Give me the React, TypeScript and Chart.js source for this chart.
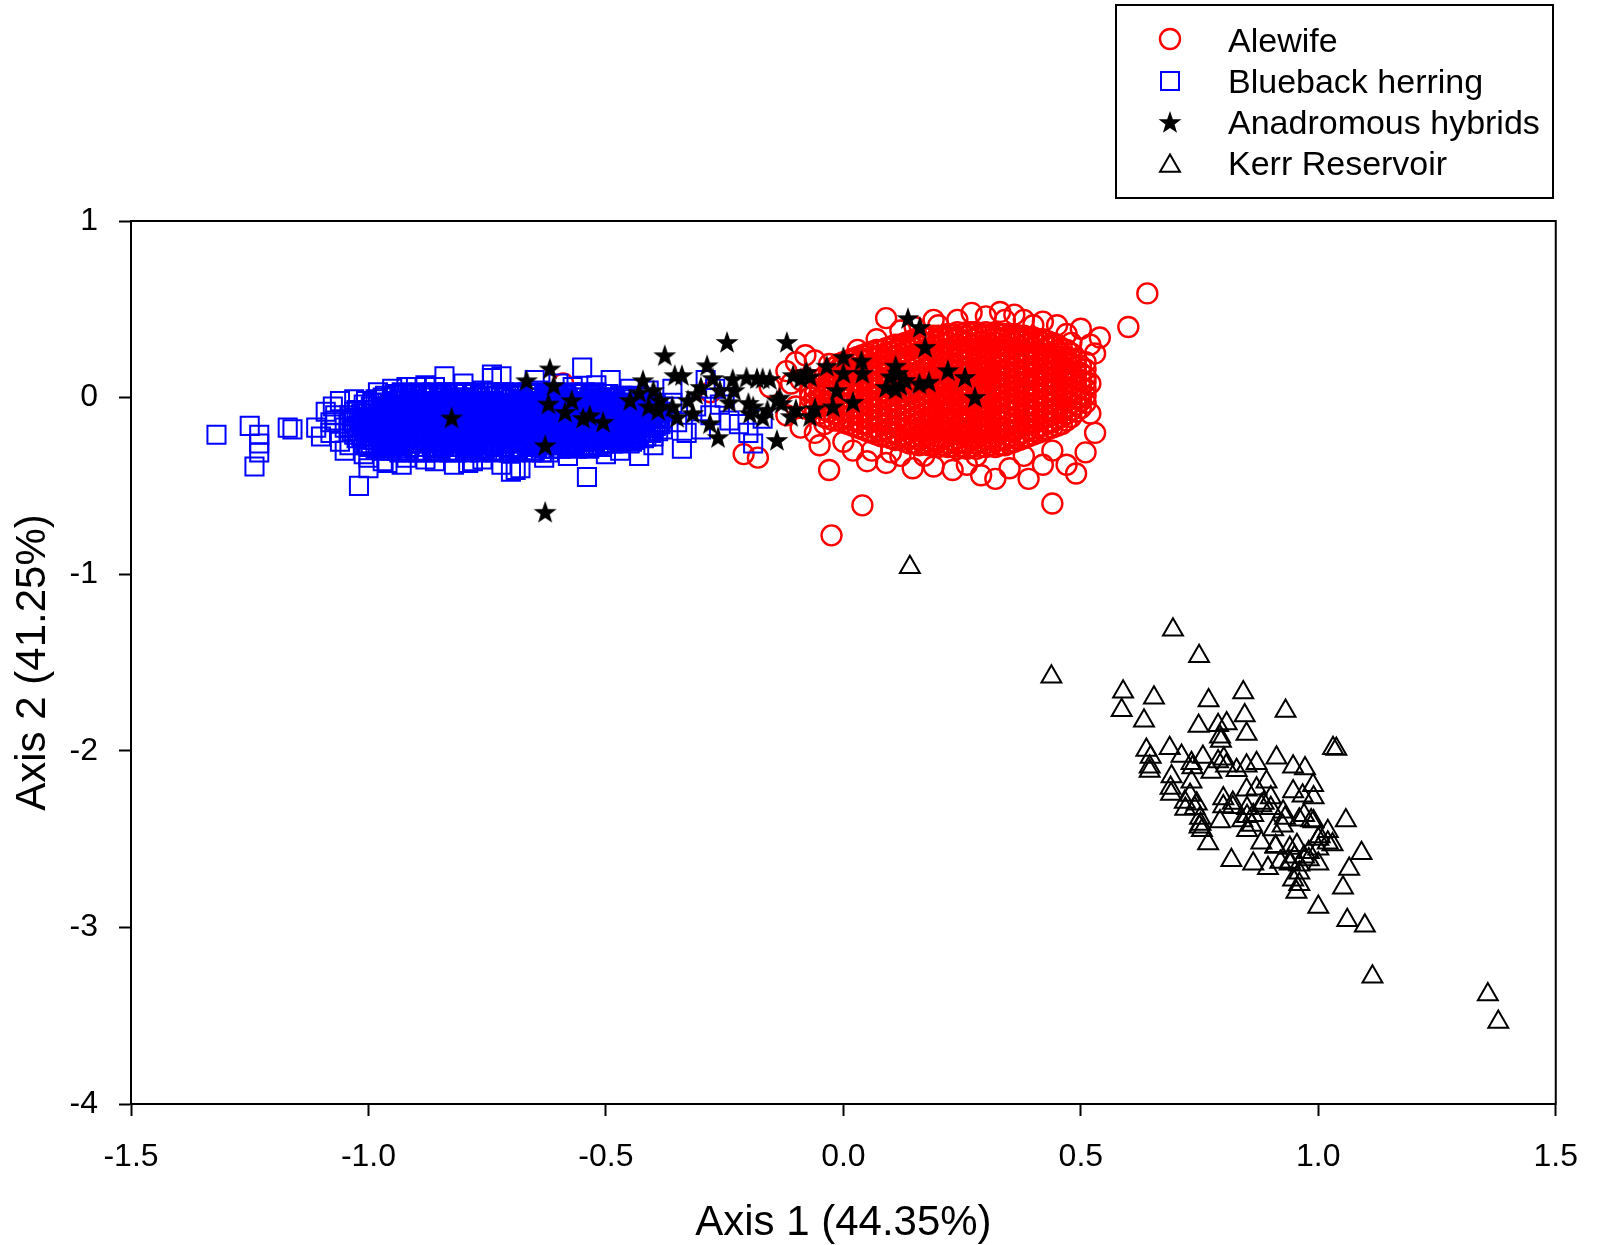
import React, { useEffect, useRef } from 'react';
import { Chart, registerables } from 'chart.js';

Chart.register(...registerables);

const seriesNames = ['Alewife', 'Blueback herring', 'Anadromous hybrids', 'Kerr Reservoir'];
const seriesColors = ['#ff0000', '#0000ff', '#000000', '#000000'];
const xTicks = [-1.5, -1.0, -0.5, 0, 0.5, 1.0, 1.5];
const yTicks = [-4, -3, -2, -1, 0, 1];
const xTitle = 'Axis 1 (44.35%)';
const yTitle = 'Axis 2 (41.25%)';

// Alewife: dense core read column by column as [x, y1, y2, ...]
const alewifeCore: number[][] = [
  [-0.07, -0.04, 0.0, 0.03],
  [-0.05, -0.09, -0.05, -0.01, 0.03, 0.07],
  [-0.03, -0.12, -0.08, -0.04, 0.0, 0.04, 0.07, 0.11, 0.14],
  [-0.01, -0.13, -0.1, -0.06, -0.02, 0.02, 0.05, 0.09, 0.12, 0.16, 0.19],
  [0.01, -0.15, -0.11, -0.07, -0.04, 0.0, 0.04, 0.07, 0.11, 0.14, 0.18, 0.21],
  [0.03, -0.17, -0.13, -0.09, -0.05, -0.02, 0.02, 0.06, 0.09, 0.13, 0.16, 0.2, 0.23],
  [0.05, -0.19, -0.15, -0.12, -0.08, -0.04, -0.01, 0.03, 0.07, 0.1, 0.14, 0.18, 0.21, 0.25],
  [0.07, -0.21, -0.17, -0.13, -0.1, -0.06, -0.02, 0.01, 0.05, 0.09, 0.12, 0.16, 0.19, 0.23, 0.27],
  [0.09, -0.22, -0.18, -0.15, -0.11, -0.07, -0.04, 0.0, 0.04, 0.07, 0.11, 0.14, 0.18, 0.22, 0.25, 0.28],
  [0.11, -0.24, -0.2, -0.16, -0.13, -0.09, -0.05, -0.02, 0.02, 0.06, 0.09, 0.13, 0.16, 0.2, 0.23, 0.27, 0.3],
  [0.13, -0.25, -0.21, -0.18, -0.14, -0.1, -0.07, -0.03, 0.01, 0.04, 0.08, 0.11, 0.15, 0.19, 0.22, 0.26, 0.29, 0.31],
  [0.15, -0.26, -0.22, -0.19, -0.15, -0.11, -0.08, -0.04, 0.0, 0.03, 0.07, 0.1, 0.14, 0.17, 0.21, 0.24, 0.28, 0.31, 0.33],
  [0.17, -0.26, -0.23, -0.19, -0.16, -0.12, -0.09, -0.05, -0.01, 0.02, 0.06, 0.09, 0.13, 0.16, 0.2, 0.24, 0.27, 0.31, 0.34],
  [0.19, -0.27, -0.24, -0.2, -0.17, -0.13, -0.1, -0.06, -0.02, 0.01, 0.05, 0.08, 0.12, 0.15, 0.19, 0.22, 0.26, 0.29, 0.32, 0.35],
  [0.21, -0.27, -0.23, -0.19, -0.16, -0.12, -0.08, -0.05, -0.01, 0.03, 0.06, 0.1, 0.13, 0.17, 0.2, 0.24, 0.27, 0.31, 0.35],
  [0.23, -0.28, -0.24, -0.21, -0.17, -0.14, -0.1, -0.06, -0.03, 0.01, 0.04, 0.08, 0.11, 0.15, 0.18, 0.22, 0.26, 0.29, 0.33, 0.36],
  [0.25, -0.28, -0.25, -0.21, -0.18, -0.14, -0.11, -0.07, -0.04, 0.0, 0.03, 0.07, 0.1, 0.14, 0.17, 0.21, 0.24, 0.28, 0.32, 0.36],
  [0.27, -0.28, -0.24, -0.2, -0.16, -0.13, -0.09, -0.05, -0.02, 0.02, 0.05, 0.09, 0.12, 0.16, 0.19, 0.23, 0.26, 0.3, 0.33, 0.37],
  [0.29, -0.28, -0.25, -0.21, -0.17, -0.14, -0.1, -0.07, -0.03, 0.01, 0.04, 0.08, 0.11, 0.15, 0.18, 0.22, 0.25, 0.29, 0.32, 0.36],
  [0.31, -0.27, -0.23, -0.2, -0.16, -0.12, -0.09, -0.05, -0.02, 0.02, 0.06, 0.09, 0.13, 0.16, 0.2, 0.23, 0.27, 0.3, 0.33, 0.36],
  [0.33, -0.27, -0.24, -0.2, -0.17, -0.13, -0.1, -0.06, -0.03, 0.01, 0.04, 0.08, 0.12, 0.15, 0.19, 0.22, 0.26, 0.29, 0.33, 0.36],
  [0.35, -0.26, -0.22, -0.19, -0.15, -0.11, -0.08, -0.04, 0.0, 0.03, 0.07, 0.1, 0.14, 0.17, 0.21, 0.25, 0.28, 0.32, 0.35],
  [0.37, -0.24, -0.21, -0.17, -0.14, -0.1, -0.06, -0.03, 0.01, 0.05, 0.08, 0.12, 0.15, 0.19, 0.22, 0.26, 0.29, 0.32, 0.35],
  [0.39, -0.22, -0.18, -0.15, -0.11, -0.07, -0.04, 0.0, 0.03, 0.07, 0.1, 0.14, 0.17, 0.21, 0.24, 0.28, 0.31, 0.34],
  [0.41, -0.2, -0.17, -0.13, -0.09, -0.06, -0.02, 0.02, 0.05, 0.09, 0.12, 0.16, 0.19, 0.23, 0.26, 0.3, 0.33],
  [0.43, -0.18, -0.14, -0.11, -0.07, -0.03, 0.0, 0.04, 0.07, 0.11, 0.15, 0.18, 0.22, 0.25, 0.29, 0.32],
  [0.45, -0.16, -0.12, -0.09, -0.05, -0.01, 0.02, 0.06, 0.09, 0.13, 0.16, 0.2, 0.23, 0.27, 0.3],
  [0.47, -0.13, -0.09, -0.06, -0.02, 0.02, 0.05, 0.09, 0.12, 0.16, 0.2, 0.23, 0.27],
  [0.49, -0.08, -0.04, -0.01, 0.03, 0.07, 0.1, 0.14, 0.18, 0.22],
  [0.51, -0.03, 0.01, 0.05, 0.09, 0.12, 0.16],
];

// Alewife: second pass over the core, columns in between, [x, y1, y2, ...]
const alewifeCoreB: number[][] = [
  [-0.06, -0.06, -0.02, 0.02, 0.05],
  [-0.04, -0.11, -0.07, -0.03, 0.01, 0.05, 0.09, 0.12],
  [-0.02, -0.13, -0.09, -0.05, -0.01, 0.03, 0.06, 0.1, 0.13, 0.17],
  [0.0, -0.14, -0.12, -0.08, -0.04, 0.0, 0.03, 0.07, 0.1, 0.14, 0.17, 0.2],
  [0.02, -0.16, -0.13, -0.09, -0.06, -0.02, 0.02, 0.05, 0.09, 0.12, 0.16, 0.19, 0.22],
  [0.04, -0.18, -0.15, -0.11, -0.07, -0.03, 0.0, 0.04, 0.08, 0.11, 0.15, 0.18, 0.22, 0.24],
  [0.06, -0.2, -0.17, -0.13, -0.1, -0.06, -0.02, 0.01, 0.05, 0.08, 0.12, 0.16, 0.19, 0.23, 0.26],
  [0.08, -0.22, -0.19, -0.15, -0.12, -0.08, -0.04, -0.01, 0.03, 0.06, 0.1, 0.14, 0.17, 0.21, 0.24, 0.27],
  [0.1, -0.23, -0.2, -0.17, -0.13, -0.09, -0.06, -0.02, 0.01, 0.05, 0.09, 0.12, 0.16, 0.19, 0.23, 0.26, 0.29],
  [0.12, -0.24, -0.22, -0.18, -0.15, -0.11, -0.07, -0.04, 0.0, 0.03, 0.07, 0.11, 0.14, 0.18, 0.21, 0.25, 0.28, 0.3],
  [0.14, -0.26, -0.23, -0.2, -0.16, -0.13, -0.09, -0.05, -0.02, 0.02, 0.05, 0.09, 0.13, 0.16, 0.2, 0.23, 0.27, 0.3, 0.32],
  [0.16, -0.27, -0.24, -0.21, -0.17, -0.14, -0.1, -0.06, -0.03, 0.01, 0.05, 0.08, 0.12, 0.15, 0.19, 0.22, 0.26, 0.29, 0.33],
  [0.18, -0.27, -0.25, -0.21, -0.18, -0.14, -0.11, -0.07, -0.04, 0.0, 0.04, 0.07, 0.11, 0.14, 0.18, 0.21, 0.25, 0.28, 0.31, 0.34],
  [0.2, -0.28, -0.25, -0.22, -0.18, -0.15, -0.11, -0.07, -0.04, 0.0, 0.03, 0.07, 0.1, 0.14, 0.17, 0.21, 0.25, 0.28, 0.32, 0.35],
  [0.22, -0.28, -0.26, -0.22, -0.19, -0.15, -0.12, -0.08, -0.04, -0.01, 0.02, 0.06, 0.09, 0.13, 0.17, 0.2, 0.24, 0.27, 0.31, 0.34, 0.36],
  [0.24, -0.29, -0.26, -0.23, -0.19, -0.16, -0.12, -0.09, -0.05, -0.02, 0.02, 0.05, 0.09, 0.12, 0.16, 0.19, 0.23, 0.26, 0.3, 0.34, 0.37],
  [0.26, -0.29, -0.26, -0.22, -0.19, -0.15, -0.12, -0.08, -0.04, -0.01, 0.03, 0.06, 0.1, 0.13, 0.17, 0.21, 0.24, 0.28, 0.31, 0.35, 0.37],
  [0.28, -0.29, -0.26, -0.23, -0.19, -0.15, -0.12, -0.08, -0.05, -0.01, 0.03, 0.06, 0.1, 0.13, 0.17, 0.2, 0.24, 0.27, 0.31, 0.34, 0.37],
  [0.3, -0.28, -0.26, -0.22, -0.18, -0.15, -0.11, -0.08, -0.04, 0.0, 0.03, 0.07, 0.1, 0.14, 0.17, 0.21, 0.25, 0.28, 0.31, 0.35, 0.37],
  [0.32, -0.28, -0.25, -0.22, -0.18, -0.15, -0.11, -0.08, -0.04, -0.01, 0.03, 0.06, 0.1, 0.14, 0.17, 0.21, 0.24, 0.28, 0.31, 0.34, 0.37],
  [0.34, -0.27, -0.24, -0.21, -0.17, -0.13, -0.1, -0.06, -0.02, 0.02, 0.05, 0.09, 0.12, 0.16, 0.19, 0.23, 0.27, 0.3, 0.34, 0.36],
  [0.36, -0.25, -0.23, -0.19, -0.16, -0.12, -0.08, -0.05, -0.01, 0.03, 0.06, 0.1, 0.13, 0.17, 0.21, 0.24, 0.28, 0.31, 0.34, 0.36],
  [0.38, -0.23, -0.2, -0.16, -0.13, -0.09, -0.05, -0.02, 0.02, 0.05, 0.09, 0.12, 0.16, 0.19, 0.23, 0.26, 0.3, 0.33, 0.35],
  [0.4, -0.21, -0.19, -0.15, -0.11, -0.08, -0.04, 0.0, 0.04, 0.07, 0.11, 0.14, 0.18, 0.21, 0.25, 0.28, 0.32, 0.34],
  [0.42, -0.19, -0.16, -0.12, -0.09, -0.05, -0.01, 0.02, 0.06, 0.1, 0.13, 0.17, 0.2, 0.24, 0.27, 0.31, 0.33],
  [0.44, -0.17, -0.14, -0.1, -0.07, -0.03, 0.01, 0.04, 0.08, 0.11, 0.15, 0.18, 0.22, 0.25, 0.29, 0.31],
  [0.46, -0.15, -0.11, -0.07, -0.04, 0.0, 0.04, 0.07, 0.11, 0.14, 0.18, 0.21, 0.25, 0.28],
  [0.48, -0.11, -0.07, -0.03, 0.01, 0.04, 0.08, 0.11, 0.15, 0.19, 0.22, 0.25],
  [0.5, -0.06, -0.02, 0.02, 0.06, 0.1, 0.14, 0.18],
];

// Alewife: scattered points around the core, [x, y]
const alewifeEdge: number[][] = [
  [0.09, 0.45], [0.15, 0.4], [0.12, 0.38], [0.19, 0.44], [0.2, 0.41], [0.24, 0.44], [0.27, 0.48], [0.3, 0.46],
  [0.33, 0.485], [0.34, 0.44], [0.36, 0.47], [0.38, 0.44], [0.4, 0.41], [0.42, 0.43], [0.45, 0.41], [0.47, 0.36],
  [0.5, 0.39], [0.52, 0.3], [0.54, 0.34], [0.53, 0.25], [0.6, 0.4], [0.64, 0.59],
  [-0.08, 0.24], [-0.06, 0.21], [-0.1, 0.2], [-0.12, 0.15], [-0.11, 0.08], [-0.09, 0.1], [-0.155, 0.06],
  [-0.28, 0.03], [-0.59, 0.08], [-0.1, -0.05], [-0.12, -0.1], [-0.09, -0.17], [-0.21, -0.32], [-0.18, -0.34],
  [-0.06, -0.2], [-0.05, -0.27], [-0.03, -0.41], [-0.025, -0.78], [0.04, -0.61],
  [0.02, -0.3], [0.05, -0.36], [0.09, -0.37], [0.146, -0.4], [0.19, -0.39], [0.23, -0.41], [0.26, -0.38],
  [0.29, -0.44], [0.32, -0.46], [0.35, -0.4], [0.39, -0.46], [0.42, -0.38], [0.44, -0.6], [0.47, -0.38],
  [0.49, -0.43], [0.51, -0.31], [0.52, -0.09], [0.53, -0.2], [0.44, -0.3], [0.12, -0.33], [0.0, -0.25],
  [0.38, -0.33], [0.1, -0.31], [0.06, -0.3], [0.28, -0.33], [0.17, -0.33], [0.5, 0.0], [0.52, 0.08],
  [0.51, 0.2], [0.48, 0.31], [0.03, 0.27], [0.07, 0.33], [-0.03, 0.19], [-0.04, -0.15],
];

// Blueback herring: dense core read column by column as [x, y1, y2, ...]
const bluebackCore: number[][] = [
  [-1.04, -0.1, -0.17], [-1.03, -0.08, -0.14, -0.21], [-1.02, -0.12, -0.19],
  [-1.01, -0.04, -0.11, -0.18, -0.26], [-1.0, -0.07, -0.15, -0.22, -0.28], [-0.99, -0.03, -0.09, -0.17, -0.24],
  [-0.98, -0.05, -0.13, -0.2, -0.27], [-0.97, 0.0, -0.08, -0.16, -0.23, -0.3], [-0.96, -0.03, -0.11, -0.18, -0.26],
  [-0.95, 0.01, -0.06, -0.14, -0.21, -0.29], [-0.94, -0.02, -0.1, -0.17, -0.25, -0.3], [-0.93, 0.03, -0.05, -0.12, -0.2, -0.27],
  [-0.92, 0.0, -0.08, -0.15, -0.23, -0.31], [-0.91, 0.02, -0.04, -0.11, -0.19, -0.26], [-0.9, -0.01, -0.09, -0.16, -0.24, -0.3],
  [-0.89, 0.03, -0.06, -0.13, -0.21, -0.28], [-0.88, 0.01, -0.07, -0.14, -0.22, -0.31], [-0.87, -0.02, -0.1, -0.18, -0.25],
  [-0.86, 0.02, -0.05, -0.12, -0.2, -0.29], [-0.85, 0.0, -0.08, -0.16, -0.23, -0.3], [-0.84, 0.03, -0.04, -0.11, -0.19, -0.27],
  [-0.83, -0.01, -0.09, -0.17, -0.24, -0.31], [-0.82, 0.02, -0.06, -0.13, -0.21, -0.28], [-0.81, 0.0, -0.07, -0.15, -0.22, -0.3],
  [-0.8, 0.03, -0.03, -0.1, -0.18, -0.26], [-0.79, -0.01, -0.09, -0.16, -0.24, -0.31], [-0.78, 0.02, -0.05, -0.12, -0.2, -0.28],
  [-0.77, 0.0, -0.08, -0.15, -0.23, -0.29], [-0.76, 0.04, -0.03, -0.11, -0.19, -0.27], [-0.75, 0.01, -0.07, -0.14, -0.22, -0.3],
  [-0.74, -0.02, -0.1, -0.17, -0.25, -0.31], [-0.73, 0.03, -0.05, -0.13, -0.2, -0.28], [-0.72, 0.0, -0.08, -0.16, -0.23, -0.3],
  [-0.71, 0.02, -0.04, -0.11, -0.19, -0.26], [-0.7, -0.01, -0.09, -0.15, -0.22, -0.29], [-0.69, 0.03, -0.06, -0.13, -0.21, -0.31],
  [-0.68, 0.01, -0.07, -0.14, -0.24, -0.28], [-0.67, -0.02, -0.1, -0.18, -0.25], [-0.66, 0.02, -0.05, -0.12, -0.2, -0.27],
  [-0.65, 0.0, -0.08, -0.16, -0.23, -0.3], [-0.64, 0.04, -0.03, -0.11, -0.19, -0.26], [-0.63, 0.01, -0.07, -0.14, -0.22, -0.29],
  [-0.62, -0.01, -0.09, -0.17, -0.24, -0.31], [-0.61, 0.03, -0.05, -0.12, -0.2, -0.27], [-0.6, 0.0, -0.08, -0.15, -0.23, -0.29],
  [-0.59, 0.02, -0.04, -0.11, -0.18, -0.26], [-0.58, -0.01, -0.09, -0.16, -0.22, -0.28], [-0.57, 0.03, -0.06, -0.13, -0.2, -0.27],
  [-0.56, 0.0, -0.07, -0.15, -0.23, -0.29], [-0.55, 0.02, -0.04, -0.11, -0.18, -0.25], [-0.54, -0.02, -0.1, -0.17, -0.24, -0.28],
  [-0.53, 0.01, -0.06, -0.13, -0.21, -0.27], [-0.52, 0.03, -0.03, -0.09, -0.16, -0.23], [-0.51, -0.01, -0.08, -0.15, -0.22, -0.28],
  [-0.5, 0.02, -0.05, -0.12, -0.19, -0.26], [-0.49, 0.0, -0.07, -0.14, -0.21, -0.26], [-0.48, -0.02, -0.1, -0.17, -0.24],
  [-0.47, 0.01, -0.05, -0.12, -0.19, -0.25], [-0.46, -0.01, -0.08, -0.15, -0.22], [-0.45, 0.0, -0.06, -0.13, -0.2, -0.26],
  [-0.44, -0.03, -0.1, -0.17, -0.24], [-0.43, 0.01, -0.07, -0.14, -0.21], [-0.42, -0.02, -0.09, -0.16, -0.23],
  [-0.41, -0.05, -0.12, -0.19], [-0.4, -0.03, -0.1, -0.17, -0.22], [-0.39, -0.07, -0.14, -0.19], [-0.38, -0.05, -0.12, -0.18],
];

// Blueback herring: second pass over the core, columns in between, [x, y1, y2, ...]
const bluebackCoreB: number[][] = [
  [-1.035, -0.13, -0.19], [-1.025, -0.07, -0.16, -0.23], [-1.015, -0.09, -0.15, -0.22],
  [-1.005, -0.02, -0.12, -0.2, -0.27], [-0.995, -0.05, -0.13, -0.2, -0.26], [-0.985, -0.01, -0.07, -0.15, -0.22, -0.29],
  [-0.975, -0.03, -0.11, -0.18, -0.25], [-0.965, 0.01, -0.06, -0.13, -0.2, -0.28], [-0.955, -0.04, -0.09, -0.16, -0.24, -0.3],
  [-0.945, 0.02, -0.05, -0.13, -0.2, -0.27], [-0.935, -0.01, -0.08, -0.15, -0.23, -0.31], [-0.925, 0.02, -0.04, -0.11, -0.18, -0.26],
  [-0.915, -0.02, -0.09, -0.17, -0.24, -0.29], [-0.905, 0.01, -0.06, -0.13, -0.21, -0.28], [-0.895, -0.03, -0.11, -0.18, -0.26, -0.31],
  [-0.885, 0.02, -0.04, -0.1, -0.17, -0.24], [-0.875, 0.0, -0.06, -0.13, -0.2, -0.28], [-0.865, 0.03, -0.03, -0.08, -0.15, -0.22, -0.3],
  [-0.855, -0.02, -0.09, -0.17, -0.25, -0.31], [-0.845, 0.01, -0.06, -0.13, -0.21, -0.28], [-0.835, 0.03, -0.02, -0.08, -0.15, -0.23, -0.3],
  [-0.825, -0.03, -0.11, -0.19, -0.26], [-0.815, 0.02, -0.04, -0.1, -0.18, -0.25, -0.31], [-0.805, 0.0, -0.06, -0.13, -0.2, -0.28],
  [-0.795, 0.03, -0.05, -0.12, -0.21, -0.29], [-0.785, -0.02, -0.07, -0.14, -0.22, -0.3], [-0.775, 0.03, -0.04, -0.1, -0.18, -0.26],
  [-0.765, 0.01, -0.06, -0.13, -0.21, -0.31], [-0.755, -0.02, -0.09, -0.16, -0.25, -0.29], [-0.745, 0.03, -0.04, -0.12, -0.19, -0.27],
  [-0.735, 0.01, -0.06, -0.14, -0.21, -0.3], [-0.725, -0.03, -0.11, -0.18, -0.26], [-0.715, 0.03, -0.05, -0.13, -0.21, -0.28],
  [-0.705, 0.01, -0.07, -0.15, -0.24, -0.31], [-0.695, -0.03, -0.1, -0.18, -0.26], [-0.685, 0.02, -0.04, -0.11, -0.19, -0.29],
  [-0.675, -0.01, -0.08, -0.16, -0.22, -0.3], [-0.665, 0.03, -0.05, -0.13, -0.21, -0.27], [-0.655, 0.0, -0.07, -0.14, -0.24, -0.31],
  [-0.645, 0.02, -0.05, -0.1, -0.17, -0.28], [-0.635, -0.02, -0.09, -0.16, -0.24, -0.31], [-0.625, 0.03, -0.04, -0.12, -0.2, -0.27],
  [-0.615, 0.0, -0.07, -0.14, -0.22, -0.29], [-0.605, 0.02, -0.03, -0.1, -0.18, -0.25], [-0.595, -0.02, -0.09, -0.16, -0.21, -0.29],
  [-0.585, 0.01, -0.06, -0.13, -0.19, -0.27], [-0.575, -0.03, -0.1, -0.18, -0.25], [-0.565, 0.02, -0.04, -0.11, -0.17, -0.26],
  [-0.555, 0.0, -0.08, -0.14, -0.21, -0.28], [-0.545, 0.03, -0.05, -0.13, -0.2, -0.27], [-0.535, -0.01, -0.08, -0.15, -0.23, -0.29],
  [-0.525, 0.02, -0.04, -0.11, -0.18, -0.25], [-0.515, 0.0, -0.06, -0.13, -0.2, -0.27], [-0.505, -0.03, -0.1, -0.17, -0.24],
  [-0.495, 0.02, -0.04, -0.1, -0.16, -0.23], [-0.485, 0.0, -0.06, -0.13, -0.2, -0.26], [-0.475, -0.03, -0.09, -0.15, -0.22],
  [-0.465, 0.01, -0.05, -0.11, -0.18, -0.24], [-0.455, -0.03, -0.1, -0.17, -0.23], [-0.445, 0.0, -0.07, -0.14, -0.21, -0.25],
  [-0.435, -0.04, -0.11, -0.18, -0.23], [-0.425, 0.0, -0.06, -0.13, -0.2], [-0.415, -0.03, -0.1, -0.17, -0.22],
  [-0.405, -0.06, -0.14, -0.2], [-0.395, -0.04, -0.11, -0.16], [-0.385, -0.08, -0.15],
];

// Blueback herring: scattered points around the core, [x, y]
const bluebackEdge: number[][] = [
  [-1.32, -0.21], [-1.25, -0.16], [-1.23, -0.21], [-1.23, -0.26], [-1.23, -0.31], [-1.24, -0.39], [-1.17, -0.17],
  [-1.16, -0.18], [-1.11, -0.17], [-1.1, -0.22], [-1.075, -0.05], [-1.02, -0.5], [-1.0, -0.4], [-1.03, -0.01],
  [-0.96, -0.37], [-0.84, 0.12], [-0.74, 0.13], [-0.72, 0.12], [-0.79, -0.37], [-0.7, -0.42], [-0.69, -0.41],
  [-0.55, 0.17], [-0.54, -0.45], [-0.43, -0.33], [-0.34, -0.29], [-0.19, -0.26], [-0.29, 0.1], [-0.22, -0.15],
  [-0.49, 0.1], [-0.74, 0.11], [-0.65, 0.1], [-1.07, -0.1], [-1.08, -0.14], [-1.06, -0.25], [-1.05, -0.3],
  [-0.98, 0.03], [-0.92, 0.06], [-0.88, 0.07], [-0.8, 0.08], [-0.6, 0.08], [-0.63, -0.34], [-0.88, -0.35],
  [-0.92, -0.34], [-0.76, -0.35], [-0.58, -0.33], [-0.5, -0.32], [-0.47, -0.3], [-0.4, -0.27], [-0.36, -0.03],
  [-0.35, -0.14], [-0.33, -0.2], [-0.31, -0.05], [-0.28, -0.1], [-0.3, -0.18], [-0.26, -0.04], [-0.25, 0.0],
  [-0.36, 0.05], [-0.41, 0.04], [-0.45, 0.05], [-0.52, 0.07], [-0.57, 0.06], [-0.2, -0.2], [-0.24, -0.13],
  [-0.27, 0.05], [-0.17, -0.12], [-0.95, 0.05], [-0.9, 0.06], [-0.86, 0.06], [-1.0, -0.34], [-0.97, -0.36],
  [-0.93, -0.38], [-0.86, -0.36], [-0.82, -0.38], [-0.78, -0.36], [-0.72, -0.38], [-0.68, -0.4],
  [-1.09, -0.08], [-1.08, -0.2], [-1.06, -0.02], [-1.05, -0.17], [-1.04, -0.27], [-1.01, -0.32], [-1.07, -0.13],
];

// Anadromous hybrids, [x, y]
const hybrids: number[][] = [
  [-0.825, -0.113], [-0.667, 0.098], [-0.618, 0.165], [-0.61, 0.07], [-0.572, -0.015], [-0.621, -0.034],
  [-0.586, -0.081], [-0.534, -0.1], [-0.506, -0.137], [-0.548, -0.115], [-0.628, -0.27], [-0.628, -0.647],
  [-0.449, -0.014], [-0.376, 0.24], [-0.422, 0.098], [-0.4, 0.042], [-0.386, -0.015], [-0.39, -0.07],
  [-0.355, 0.127], [-0.34, 0.127], [-0.327, -0.015], [-0.317, -0.088], [-0.35, -0.11], [-0.287, 0.183],
  [-0.245, 0.315], [-0.119, 0.315], [-0.275, 0.11], [-0.233, 0.105], [-0.204, 0.115], [-0.182, 0.11],
  [-0.155, 0.105], [-0.281, -0.145], [-0.264, -0.224], [-0.26, 0.042], [-0.23, 0.042], [-0.24, -0.026],
  [-0.2, -0.03], [-0.197, -0.088], [-0.14, -0.24], [-0.134, 0.0], [-0.106, 0.127], [-0.077, 0.144],
  [-0.11, -0.105], [-0.07, -0.105], [-0.06, -0.06], [0.136, 0.45], [0.161, 0.4], [0.172, 0.287], [0.0, 0.23],
  [0.038, 0.21], [-0.035, 0.18], [0.11, 0.18], [0.1, 0.12], [0.115, 0.14], [0.12, 0.07], [0.11, 0.05],
  [0.13, 0.1], [0.09, 0.06], [0.16, 0.08], [0.18, 0.09], [0.22, 0.155], [0.256, 0.117], [0.277, 0.004],
  [0.0, 0.14], [0.04, 0.14], [-0.014, 0.042], [0.02, -0.024], [-0.022, -0.05], [-0.08, 0.14], [-0.07, 0.12],
  [-0.09, 0.11], [-0.17, 0.11], [-0.14, -0.015], [-0.13, -0.03], [-0.1, -0.065], [-0.19, -0.05], [-0.16, -0.07],
  [-0.17, -0.11], [-0.41, -0.05], [-0.3, 0.06], [-0.31, 0.02], [-0.36, -0.05], [-0.43, 0.03],
];

// Kerr Reservoir, [x, y]
const kerr: number[][] = [
  [0.14, -0.96], [0.438, -1.58], [0.694, -1.315], [0.749, -1.465], [0.589, -1.665], [0.586, -1.77], [0.654, -1.7],
  [0.633, -1.83], [0.769, -1.715], [0.842, -1.67], [0.845, -1.8], [0.931, -1.775], [0.748, -1.86], [0.789, -1.855],
  [0.807, -1.845], [0.793, -1.92], [0.795, -1.945], [0.849, -1.905], [1.031, -1.985], [1.038, -1.99], [0.638, -1.995],
  [0.647, -2.035], [0.645, -2.09], [0.687, -1.985], [0.712, -2.03], [0.733, -2.07], [0.735, -2.095], [0.757, -2.035],
  [0.775, -2.12], [0.789, -2.06], [0.801, -2.045], [0.806, -2.085], [0.828, -2.11], [0.849, -2.085], [0.87, -2.07],
  [0.912, -2.04], [0.947, -2.09], [0.972, -2.1], [0.645, -2.115], [0.691, -2.145], [0.689, -2.21], [0.733, -2.175],
  [0.719, -2.29], [0.744, -2.3], [0.751, -2.38], [0.752, -2.415], [0.768, -2.525], [0.817, -2.62], [0.863, -2.64],
  [0.894, -2.665], [0.8, -2.27], [0.82, -2.295], [0.849, -2.22], [0.87, -2.215], [0.891, -2.175], [0.85, -2.325],
  [0.863, -2.365], [0.84, -2.395], [0.885, -2.295], [0.9, -2.265], [0.926, -2.345], [0.947, -2.23], [0.967, -2.255],
  [0.989, -2.195], [0.99, -2.265], [0.97, -2.365], [0.985, -2.395], [1.003, -2.485], [1.02, -2.455], [1.058, -2.395],
  [1.091, -2.58], [1.065, -2.67], [1.052, -2.775], [0.955, -2.535], [0.94, -2.63], [0.96, -2.645], [0.947, -2.73],
  [0.96, -2.755], [0.954, -2.8], [0.91, -2.545], [0.98, -2.575], [1.0, -2.555], [0.905, -2.445], [0.925, -2.425],
  [1.0, -2.885], [1.061, -2.96], [1.098, -2.99], [1.114, -3.28], [1.357, -3.38], [1.379, -3.535], [0.793, -2.4],
  [0.75, -2.43], [0.755, -2.45], [0.72, -2.33], [0.74, -2.325], [0.69, -2.245], [0.73, -2.25], [0.8, -2.315],
  [0.82, -2.32], [0.85, -2.37], [0.86, -2.42], [0.85, -2.45], [0.88, -2.31], [0.9, -2.325], [0.93, -2.38],
  [0.96, -2.39], [0.99, -2.4], [0.88, -2.52], [0.91, -2.54], [0.94, -2.55], [0.95, -2.6], [1.0, -2.5],
  [1.02, -2.52], [1.03, -2.53], [0.97, -2.6], [0.98, -2.615], [1.0, -2.64], [0.92, -2.63], [0.94, -2.64], [0.96, -2.69],
];

const FONT = '"Liberation Sans", Arial, Helvetica, sans-serif';

const fromColumns = (cols: number[][]) =>
  cols.flatMap((c) => c.slice(1).map((y) => ({ x: c[0], y })));
const fromPairs = (arr: number[][]) => arr.map((p) => ({ x: p[0], y: p[1] }));

function makeStar(outer: number, inner: number): HTMLCanvasElement {
  const size = Math.ceil(outer * 2 + 2);
  const c = document.createElement('canvas');
  c.width = size;
  c.height = size;
  const g = c.getContext('2d') as CanvasRenderingContext2D;
  const cx = size / 2;
  const cy = size / 2 + outer * 0.09;
  g.fillStyle = '#000';
  g.beginPath();
  for (let i = 0; i < 10; i++) {
    const r = i % 2 === 0 ? outer : inner;
    const a = -Math.PI / 2 + (i * Math.PI) / 5;
    const px = cx + r * Math.cos(a);
    const py = cy + r * Math.sin(a);
    if (i === 0) g.moveTo(px, py);
    else g.lineTo(px, py);
  }
  g.closePath();
  g.fill();
  return c;
}

export default function App() {
  const ref = useRef<HTMLCanvasElement>(null);

  useEffect(() => {
    document.body.style.overflow = 'hidden';
    const star = makeStar(12, 4.8);

    const frameAndLegend = {
      id: 'frameAndLegend',
      afterDraw(chart: any) {
        const ctx = chart.ctx as CanvasRenderingContext2D;
        const a = chart.chartArea;
        ctx.save();
        ctx.strokeStyle = '#000';
        ctx.lineWidth = 2;
        ctx.beginPath();
        ctx.moveTo(a.left - 1, a.top);
        ctx.lineTo(a.right, a.top);
        ctx.lineTo(a.right, a.bottom + 1);
        ctx.stroke();

        // legend box
        ctx.strokeRect(1116, 5, 437, 193);
        const mx = 1170;
        const textX = 1228;
        const baselines = [52, 93, 134, 175];
        const centers = [39, 81, 122, 163];
        ctx.font = `34px ${FONT}`;
        ctx.textBaseline = 'alphabetic';
        ctx.textAlign = 'left';
        ctx.fillStyle = '#000';
        seriesNames.forEach((name, i) => ctx.fillText(name, textX, baselines[i]));

        // circle
        ctx.strokeStyle = seriesColors[0];
        ctx.lineWidth = 2.4;
        ctx.beginPath();
        ctx.arc(mx, centers[0], 10, 0, Math.PI * 2);
        ctx.stroke();
        // square
        ctx.strokeStyle = seriesColors[1];
        ctx.lineWidth = 2;
        ctx.strokeRect(mx - 9, centers[1] - 9, 18, 18);
        // star
        ctx.drawImage(star, mx - star.width / 2, centers[2] - star.height / 2);
        // triangle
        const r = 11.5;
        const ty = centers[3] + r / 4;
        ctx.strokeStyle = seriesColors[3];
        ctx.lineWidth = 2;
        ctx.beginPath();
        ctx.moveTo(mx, ty - r);
        ctx.lineTo(mx + r * Math.sin((2 * Math.PI) / 3), ty + r / 2);
        ctx.lineTo(mx - r * Math.sin((2 * Math.PI) / 3), ty + r / 2);
        ctx.closePath();
        ctx.stroke();
        ctx.restore();
      },
    };

    const tickFont = { family: FONT, size: 32 };
    const titleFont = { family: FONT, size: 42, lineHeight: 1 };
    const gridCfg = {
      display: true,
      drawOnChartArea: false,
      drawTicks: true,
      tickLength: 12,
      tickWidth: 2,
      tickColor: '#000',
    };
    const borderCfg = { display: true, color: '#000', width: 2 };

    const chart = new Chart(ref.current as HTMLCanvasElement, {
      type: 'scatter',
      data: {
        datasets: [
          {
            label: seriesNames[0],
            data: [...fromColumns(alewifeCore), ...fromColumns(alewifeCoreB), ...fromPairs(alewifeEdge)],
            pointStyle: 'circle',
            pointRadius: 10,
            pointBorderWidth: 2.4,
            pointBorderColor: seriesColors[0],
            pointBackgroundColor: 'rgba(0,0,0,0)',
            order: 4,
          },
          {
            label: seriesNames[1],
            data: [...fromColumns(bluebackCore), ...fromColumns(bluebackCoreB), ...fromPairs(bluebackEdge)],
            pointStyle: 'rect',
            pointRadius: 12.8,
            pointBorderWidth: 2,
            pointBorderColor: seriesColors[1],
            pointBackgroundColor: 'rgba(0,0,0,0)',
            order: 3,
          },
          {
            label: seriesNames[3],
            data: fromPairs(kerr),
            pointStyle: 'triangle',
            pointRadius: 11.5,
            pointBorderWidth: 2,
            pointBorderColor: seriesColors[3],
            pointBackgroundColor: 'rgba(0,0,0,0)',
            order: 2,
          },
          {
            label: seriesNames[2],
            data: fromPairs(hybrids),
            pointStyle: star as any,
            pointRadius: 12,
            pointBorderColor: seriesColors[2],
            pointBackgroundColor: seriesColors[2],
            order: 1,
          },
        ] as any,
      },
      options: {
        responsive: true,
        maintainAspectRatio: false,
        animation: false,
        events: [],
        layout: { padding: { top: 221, right: 44, bottom: 0, left: 0 } },
        plugins: {
          legend: { display: false },
          tooltip: { enabled: false },
        },
        scales: {
          x: {
            type: 'linear',
            min: -1.5,
            max: 1.5,
            afterBuildTicks: (s: any) => {
              s.ticks = xTicks.map((v) => ({ value: v }));
            },
            afterFit: (s: any) => {
              s.height = 141;
            },
            ticks: {
              callback: (v: any) => Number(v).toFixed(1),
              font: tickFont,
              color: '#000',
              padding: 22,
              autoSkip: false,
              maxRotation: 0,
            },
            grid: gridCfg,
            border: borderCfg,
            title: {
              display: true,
              text: xTitle,
              font: titleFont,
              color: '#000',
              padding: { top: 0, bottom: 1 },
            },
          },
          y: {
            type: 'linear',
            min: -4,
            max: 1,
            afterBuildTicks: (s: any) => {
              s.ticks = yTicks.map((v) => ({ value: v }));
            },
            afterFit: (s: any) => {
              s.width = 131;
            },
            ticks: {
              callback: (v: any) => String(v),
              font: tickFont,
              color: '#000',
              padding: 21,
              autoSkip: false,
            },
            grid: gridCfg,
            border: borderCfg,
            title: {
              display: true,
              text: yTitle,
              font: titleFont,
              color: '#000',
              padding: { top: 12, bottom: 0 },
            },
          },
        },
      } as any,
      plugins: [frameAndLegend],
    });

    return () => chart.destroy();
  }, []);

  return (
    <div
      style={{
        position: 'absolute',
        left: 0,
        top: 0,
        width: 1600,
        height: 1245,
        background: '#fff',
      }}
    >
      <canvas ref={ref} />
    </div>
  );
}
